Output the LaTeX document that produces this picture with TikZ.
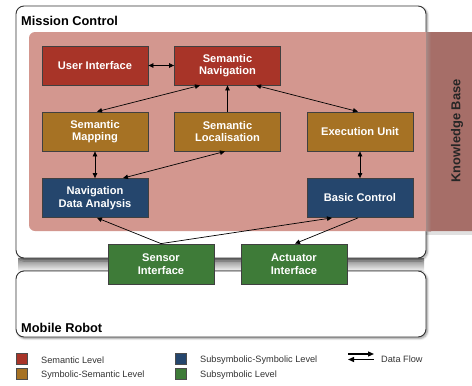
\documentclass[tikz,border=0pt]{standalone}
\usepackage{fontspec}
\setmainfont{Liberation Sans}
\usetikzlibrary{arrows.meta,shadows.blur,calc}
\definecolor{semred}{HTML}{A83428}
\definecolor{symochre}{HTML}{A67224}
\definecolor{subblue}{HTML}{25466D}
\definecolor{subgreen}{HTML}{3E7B38}
\definecolor{kbpink}{HTML}{D3978F}
\definecolor{kbdark}{HTML}{A66E68}
\definecolor{legtext}{HTML}{333333}
\tikzset{
  unitbox/.style={rectangle, draw=black!75, line width=0.8pt, text=white,
    minimum width=106pt, minimum height=39pt, align=center, inner sep=1pt,
    font=\fontsize{11.1}{12.5}\selectfont\bfseries},
  frame/.style={draw=black!80, line width=0.9pt, fill=white, rounded corners=8pt,
    blur shadow={shadow xshift=1.5pt, shadow yshift=-1.5pt, shadow blur steps=6, shadow opacity=40}},
  flow/.style={line width=0.7pt, black, >={Triangle[length=5pt,width=4.5pt]}},
  legflow/.style={line width=1.3pt, black, >={Triangle[length=6pt,width=5pt]}},
  title/.style={font=\fontsize{12.8}{14}\selectfont\bfseries, inner sep=0pt, anchor=base west},
  legsq/.style={draw=black!70, line width=0.6pt},
  legtxt/.style={font=\fontsize{9.2}{11}\selectfont, text=legtext, inner sep=0pt, anchor=west}
}
\begin{document}
\begin{tikzpicture}[x=1pt,y=-1pt]
\useasboundingbox (0,0) rectangle (472,386);
% gap shadow between frames
\shade[top color=black!50, bottom color=black!3] (18,258) rectangle (424,271);
% frames
\path[frame] (16,6) rectangle (426,258);
\path[frame] (16,271) rectangle (426,337);
\node[title] (mc) at (21,25) {Mission Control};
\node[title] (mr) at (21,332) {Mobile Robot};
% knowledge base
\fill[kbpink] (472,32) [rounded corners=6pt] -- (29,32) -- (29,231) [sharp corners] -- (472,231) -- cycle;
\fill[black, opacity=0.12] (426,231) rectangle (472,235);
\fill[kbdark] (426,32) rectangle (472,231);
\shade[left color=black!35, right color=kbdark, opacity=0.5] (426,32) rectangle (431,231);
\node[rotate=90, font=\fontsize{12.9}{14}\selectfont\bfseries, text=black!85] (kb) at (457,131) {Knowledge Base};
% units
\node[unitbox, fill=semred] (UI) at (95,65.5) {User Interface};
\node[unitbox, fill=semred] (SN) at (227.5,65.5) {Semantic\\Navigation};
\node[unitbox, fill=symochre] (SM) at (95,131.5) {Semantic\\Mapping};
\node[unitbox, fill=symochre] (SL) at (227.5,131.5) {Semantic\\Localisation};
\node[unitbox, fill=symochre] (EU) at (360,131.5) {Execution Unit};
\node[unitbox, fill=subblue] (NDA) at (95,198) {Navigation\\Data Analysis};
\node[unitbox, fill=subblue] (BC) at (360,198) {Basic Control};
\node[unitbox, fill=subgreen, minimum height=40pt] (SI) at (161,264) {Sensor\\Interface};
\node[unitbox, fill=subgreen, minimum height=40pt] (AI) at (294,264) {Actuator\\Interface};
% flows
\draw[flow, <->] (UI.east) -- (SN.west);
\draw[flow, <->] ([xshift=-27.5pt]SN.south) -- ([xshift=2pt]SM.north);
\draw[flow, ->] (SL.north) -- (SN.south);
\draw[flow, <->] ([xshift=28.5pt]SN.south) -- ([xshift=-2pt]EU.north);
\draw[flow, <->] (SM.south) -- (NDA.north);
\draw[flow, <->] ([xshift=-2.5pt]SL.south) -- ([xshift=28pt]NDA.north);
\draw[flow, <->] (EU.south) -- (BC.north);
\draw[flow, ->] (SI.north) -- ([xshift=2pt]NDA.south);
\draw[flow, ->] (SI.north) -- ([xshift=-28pt]BC.south);
\draw[flow, ->] ([xshift=-2pt]BC.south) -- ([xshift=1pt]AI.north);
% legend
\draw[legsq, fill=semred] (16,353) rectangle (27,364);
\draw[legsq, fill=symochre] (16,368) rectangle (27,379);
\draw[legsq, fill=subblue] (175,353) rectangle (186,364);
\draw[legsq, fill=subgreen] (175,368) rectangle (186,379);
\node[legtxt] (l1) at (41,360) {Semantic Level};
\node[legtxt] (l2) at (41,375.5) {Symbolic-Semantic Level};
\node[legtxt] (l3) at (200,360) {Subsymbolic-Symbolic Level};
\node[legtxt] (l4) at (200,375.5) {Subsymbolic Level};
\node[legtxt] (l5) at (381,359.5) {Data Flow};
\coordinate (dfa) at (348,354);
\coordinate (dfb) at (374,354);
\coordinate (dfc) at (348,359.5);
\coordinate (dfd) at (374,359.5);
\draw[legflow, ->] (dfa) -- (dfb);
\draw[legflow, <-] (dfc) -- (dfd);
\end{tikzpicture}
\end{document}
